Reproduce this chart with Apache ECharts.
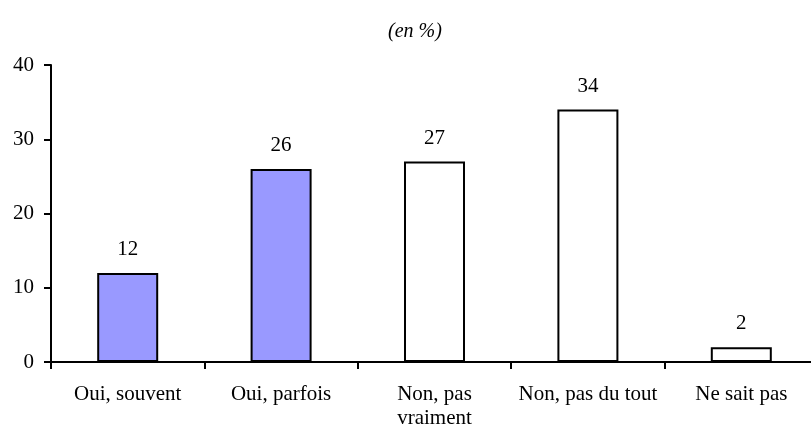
<!DOCTYPE html>
<html><head><meta charset="utf-8">
<script src="https://cdn.jsdelivr.net/npm/echarts@6/dist/echarts.min.js"></script>
<style>html,body{margin:0;padding:0;background:#fff}#c{width:811px;height:429px}</style>
</head><body><div id="c"></div>
<script>
var categories = ['Oui, souvent', 'Oui, parfois', 'Non, pas\nvraiment', 'Non, pas du tout', 'Ne sait pas'];
var values = [12, 26, 27, 34, 2];
var filled = [true, true, false, false, false];
var yTicks = [0, 10, 20, 30, 40];
var title = '(en %)';

var chart = echarts.init(document.getElementById('c'));
var font = 'Liberation Serif';
chart.setOption({
  backgroundColor: '#fff',
  animation: false,
  title: { text: title, left: 410, top: 17, textAlign: 'center',
    textStyle: { fontFamily: font, fontStyle: 'italic', fontWeight: 'normal', fontSize: 20, color: '#000' } },
  grid: { left: 51, top: 65, width: 767, height: 297, containLabel: false, outerBoundsMode: 'none' },
  xAxis: {
    type: 'category', data: categories,
    axisLine: { lineStyle: { color: '#000', width: 2 } },
    axisTick: { show: true, length: 7, lineStyle: { color: '#000', width: 2 } },
    axisLabel: { interval: 0, margin: 20, fontFamily: font, fontSize: 21, color: '#000', lineHeight: 24 }
  },
  yAxis: {
    type: 'value', min: yTicks[0], max: yTicks[yTicks.length - 1], interval: 10,
    splitLine: { show: false },
    axisLine: { show: true, lineStyle: { color: '#000', width: 2 } },
    axisTick: { show: true, length: 7, lineStyle: { color: '#000', width: 2 } },
    axisLabel: { margin: 17, fontFamily: font, fontSize: 21, color: '#000' }
  },
  series: [{
    type: 'bar', barWidth: 61,
    data: values.map(function (v, i) {
      return { value: v, itemStyle: { color: filled[i] ? '#9999FF' : '#FFFFFF', borderColor: '#000', borderWidth: 2 } };
    }),
    label: { show: true, position: 'top', distance: 13, fontFamily: font, fontSize: 21, color: '#000' }
  }]
});
</script></body></html>
